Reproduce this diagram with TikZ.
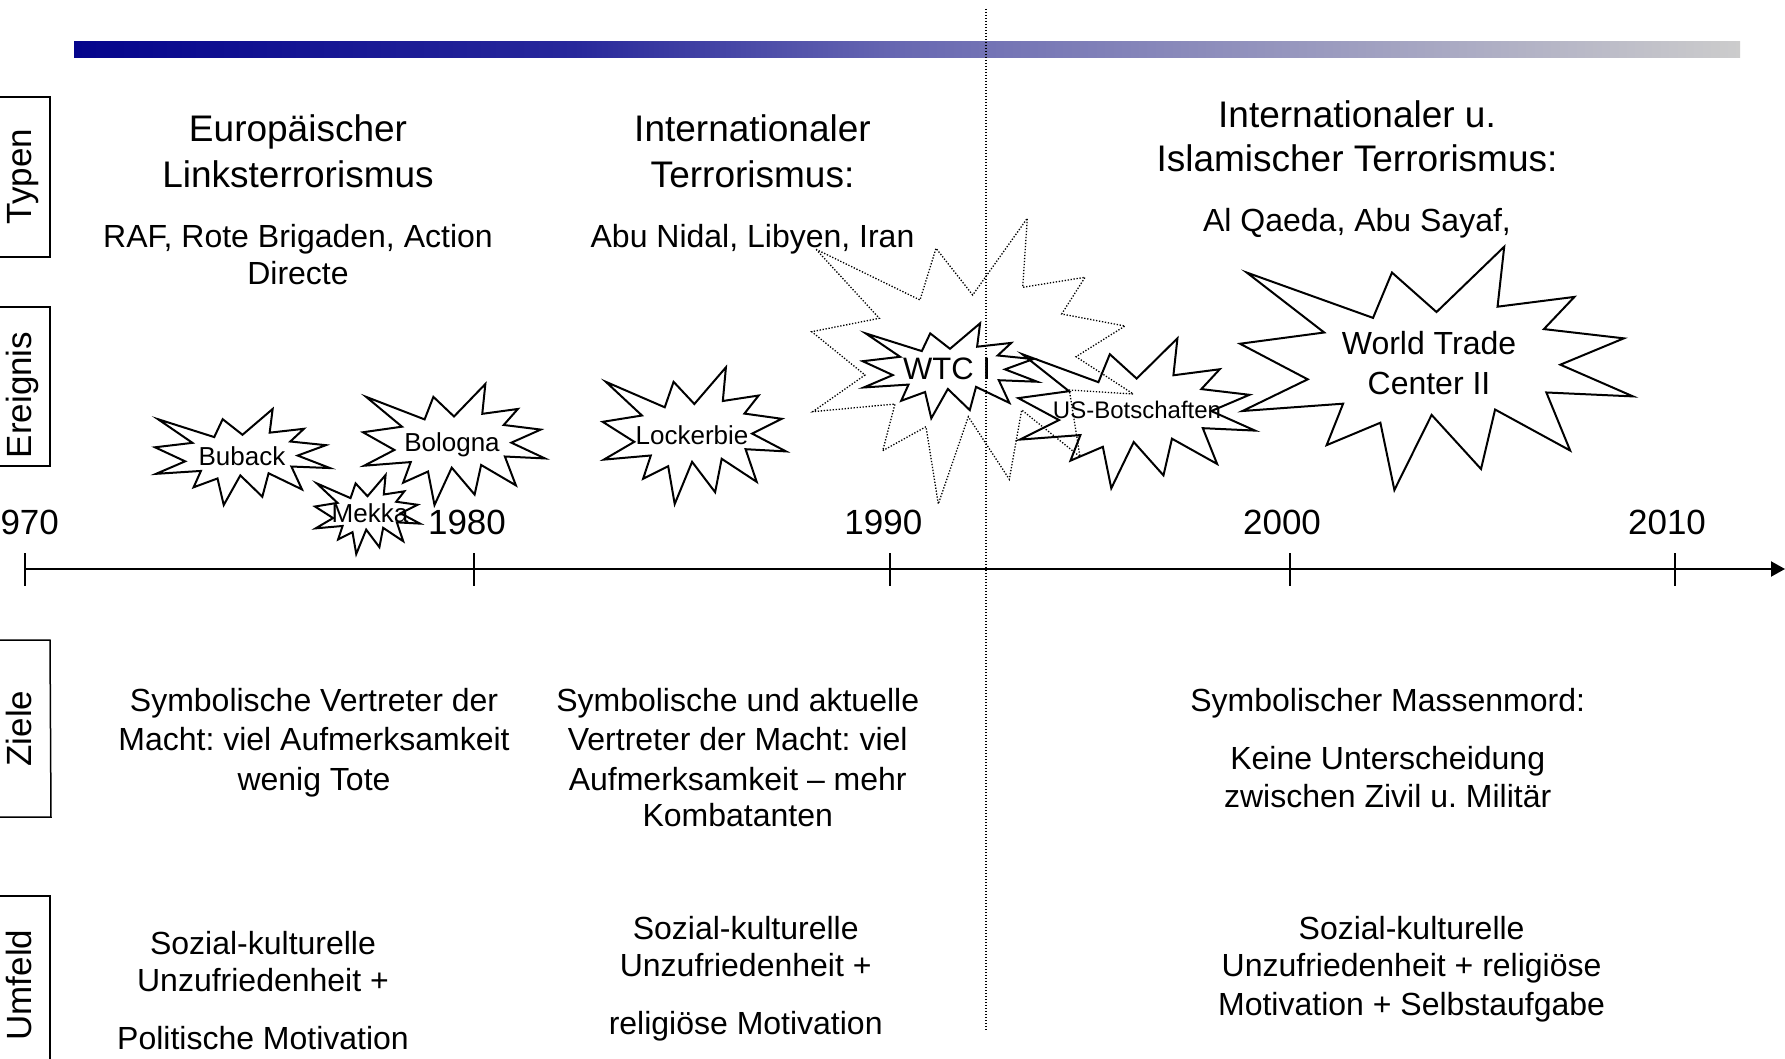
\documentclass[tikz,border=0pt]{standalone}
\usepackage{fontspec}
\setmainfont{Liberation Sans}
\usetikzlibrary{arrows.meta}
\definecolor{barA}{RGB}{5,5,140}
\definecolor{barB}{RGB}{40,40,155}
\definecolor{barC}{RGB}{105,105,178}
\definecolor{barD}{RGB}{204,204,204}
\pgfdeclarehorizontalshading{barshade}{100bp}{color(0bp)=(barA); color(25bp)=(barA); color(40bp)=(barB); color(50bp)=(barC); color(75bp)=(barD); color(100bp)=(barD)}
\newcommand{\burst}[5][]{%
  \begin{scope}[shift={(#2,#3)},xscale=#4/216,yscale=#5/216]
    \draw[burstline,#1] (108,58) -- (145.22,0) -- (141.55,53.25) -- (183.80,44.57) -- (167.02,73.15) -- (210.97,81.37) -- (176.07,104.75) -- (216,132.90) -- (168.37,129.42) -- (181.45,180.95) -- (140.20,144.57) -- (132.47,197.37) -- (105.32,149.35) -- (84.85,216) -- (77.15,156.27) -- (47.62,176.17) -- (56.67,139.37) -- (1.35,145.87) -- (37.22,117.75) -- (0,86.15) -- (46.27,76.17) -- (3.70,22.95) -- (73.12,63.20) -- (83.52,22.95) -- cycle;
  \end{scope}}
\begin{document}
\frenchspacing
\begin{tikzpicture}[x=1pt,y=-1pt,
  big/.style={font=\fontsize{37}{44}\selectfont,inner sep=0pt,anchor=base},
  mid/.style={font=\fontsize{32}{38}\selectfont,inner sep=0pt,anchor=base},
  yr/.style={font=\fontsize{35}{42}\selectfont,inner sep=0pt,anchor=base},
  ev/.style={font=\fontsize{26}{31}\selectfont,inner sep=0pt,anchor=base},
  side/.style={font=\fontsize{35}{42}\selectfont,inner sep=0pt,anchor=base,rotate=90},
  sidebox/.style={draw=black,line width=1.5pt},
  burstline/.style={draw=black,line width=2pt,line join=miter},
  dotline/.style={draw=black,line width=1.3pt,dash pattern=on 1.3pt off 1.7pt},
  axisline/.style={draw=black,line width=2pt},
  tickline/.style={draw=black,line width=2pt}]
\useasboundingbox (0,0) rectangle (1785,1059);
\clip (0,0) rectangle (1785,1059);
\fill[white] (0,0) rectangle (1785,1059);

% gradient bar
\shade[shading=barshade] (74,42) rectangle (1740,57.5);

% side boxes
\draw[sidebox] (-5,97) -- (50,97) -- (50,257) -- (-5,257);
\draw[sidebox] (-5,307) -- (50,307) -- (50,466) -- (-5,466);
\draw[sidebox] (-5,640) -- (50,640) -- (51,817) -- (-5,817);
\draw[sidebox] (-5,896) -- (50,896) -- (50,1070);
\node[side] (lTypen) at (31.6,176.5) {Typen};
\node[side] (lEreignis) at (31.6,395) {Ereignis};
\node[side] (lZiele) at (31.6,728.6) {Ziele};
\node[side] (lUmfeld) at (31.6,985) {Umfeld};

% vertical dotted line
\coordinate (vTop) at (986,9);
\coordinate (vBot) at (986,1030);
\draw[dotline] (vTop) -- (vBot);

% axis
\coordinate (axL) at (25,569);
\coordinate (axR) at (1785,569);
\draw[axisline,-{Triangle[length=14pt,width=15pt]}] (axL) -- (axR);
\foreach \tx in {25,473.6,890.2,1289.8,1674.6}
  \draw[tickline] (\tx,553) -- (\tx,586);
\node[yr] (y1970) at (20,534.6) {1970};
\node[yr] (y1980) at (467,534.6) {1980};
\node[yr] (y1990) at (883.4,534.6) {1990};
\node[yr] (y2000) at (1282,534.6) {2000};
\node[yr] (y2010) at (1667,534.6) {2010};

% Typen row
\node[big] (t1a) at (298,141.9) {Europäischer};
\node[big] (t1b) at (298,187.3) {Linksterrorismus};
\node[mid] (t1c) at (298,247.1) {RAF, Rote Brigaden, Action};
\node[mid] (t1d) at (298,284.5) {Directe};
\node[big] (t2a) at (752.5,141.9) {Internationaler};
\node[big] (t2b) at (752.5,187.3) {Terrorismus:};
\node[mid] (t2c) at (752.5,247.1) {Abu Nidal, Libyen, Iran};
\node[big] (t3a) at (1357,127.1) {Internationaler u.};
\node[big] (t3b) at (1357,171.3) {Islamischer Terrorismus:};
\node[mid] (t3c) at (1357,231.2) {Al Qaeda, Abu Sayaf,};

% dotted big burst
\draw[dotline] (816,249.3) -- (920,300) -- (936,248.3) -- (972.7,295) -- (1027.3,218.3) -- (1022.7,287.3) -- (1085,277.3) -- (1061.7,314) -- (1125,326) -- (1076,356.7) -- (1133.3,394) -- (1069.3,390) -- (1080,456.7) -- (1021.7,410) -- (1009.3,479.3) -- (968.3,416.7) -- (938.3,504) -- (926,426.7) -- (882.7,450.7) -- (895,404) -- (812.7,411.7) -- (865,375) -- (811.7,331.7) -- (879.3,318.3) -- cycle;

% solid bursts
\burst{155}{409}{175}{96}
\burst{315}{475}{105}{79}
\burst{363}{384}{182}{121}
\burst{602.7}{367.3}{183.3}{136.7}
\burst{862.7}{323.3}{174.6}{95}
\burst{1018.3}{338.3}{236.7}{150}
\burst{1240}{246.7}{393}{243.3}

% event labels
\node[ev] (eBuback) at (242,465.4) {Buback};
\node[ev] (eBologna) at (452,451.4) {Bologna};
\node[ev] (eMekka) at (370,522.4) {Mekka};
\node[ev] (eLockerbie) at (692,444.4) {Lockerbie};
\node[inner sep=0pt,anchor=base,font=\fontsize{31}{37}\selectfont] (eWTC) at (947,379.2) {WTC I};
\node[inner sep=0pt,anchor=base,font=\fontsize{24}{29}\selectfont] (eUS) at (1137,418.6) {US-Botschaften};
\node[mid] (eWTCa) at (1429,354.5) {World Trade};
\node[mid] (eWTCb) at (1429,394.5) {Center II};

% Ziele row
\node[mid] (z1a) at (314,711.5) {Symbolische Vertreter der};
\node[mid] (z1b) at (314,750.3) {Macht: viel Aufmerksamkeit};
\node[mid] (z1c) at (314,790.2) {wenig Tote};
\node[mid] (z2a) at (737.7,711.5) {Symbolische und aktuelle};
\node[mid] (z2b) at (737.7,750.3) {Vertreter der Macht: viel};
\node[mid] (z2c) at (737.7,790.2) {Aufmerksamkeit – mehr};
\node[mid] (z2d) at (737.7,826.5) {Kombatanten};
\node[mid] (z3a) at (1387.7,711.5) {Symbolischer Massenmord:};
\node[mid] (z3b) at (1387.7,769.5) {Keine Unterscheidung};
\node[mid] (z3c) at (1387.7,807.2) {zwischen Zivil u. Militär};

% Umfeld row
\node[mid] (u1a) at (263,954.1) {Sozial-kulturelle};
\node[mid] (u1b) at (263,991.5) {Unzufriedenheit +};
\node[mid] (u1c) at (263,1049.5) {Politische Motivation};
\node[mid] (u2a) at (745.7,939.3) {Sozial-kulturelle};
\node[mid] (u2b) at (745.7,976.9) {Unzufriedenheit +};
\node[mid] (u2c) at (745.7,1034.9) {religiöse Motivation};
\node[mid] (u3a) at (1411.6,939.3) {Sozial-kulturelle};
\node[mid] (u3b) at (1411.6,976.9) {Unzufriedenheit + religiöse};
\node[mid] (u3c) at (1411.6,1015.5) {Motivation + Selbstaufgabe};
\end{tikzpicture}
\end{document}
